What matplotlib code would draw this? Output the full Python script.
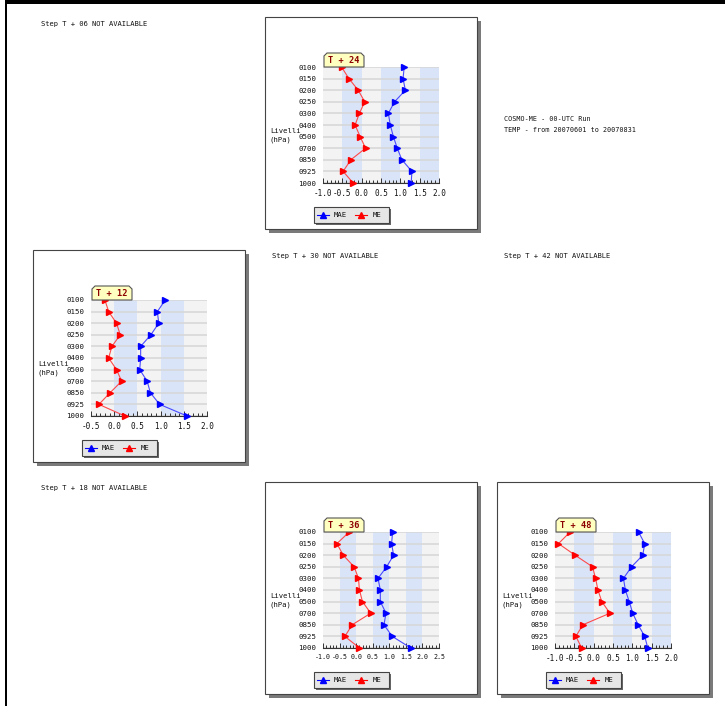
import matplotlib.pyplot as plt
from matplotlib.patches import Rectangle, Polygon
from matplotlib.ticker import MultipleLocator, FormatStrFormatter
import numpy as np

plt.rcParams['font.family'] = 'DejaVu Sans Mono'

W, H = 725, 706

# pressure levels (hPa), top to bottom
levels = ["0100", "0150", "0200", "0250", "0300", "0400",
          "0500", "0700", "0850", "0925", "1000"]

# mean error / mean absolute error per forecast step
me_12 = [-0.20, -0.12, 0.05, 0.13, -0.05, -0.12, 0.05, 0.16, -0.09, -0.33, 0.23]
mae_12 = [1.10, 0.93, 0.96, 0.79, 0.57, 0.57, 0.55, 0.71, 0.78, 0.98, 1.57]

me_24 = [-0.52, -0.33, -0.09, 0.08, -0.06, -0.17, -0.04, 0.10, -0.28, -0.48, -0.22]
mae_24 = [1.10, 1.07, 1.13, 0.85, 0.69, 0.74, 0.82, 0.92, 1.04, 1.30, 1.28]

me_36 = [-0.21, -0.58, -0.39, -0.06, 0.07, 0.10, 0.19, 0.44, -0.12, -0.34, 0.10]
mae_36 = [1.10, 1.07, 1.13, 0.92, 0.66, 0.73, 0.73, 0.90, 0.84, 1.09, 1.65]

me_48 = [-0.61, -0.91, -0.48, -0.03, 0.05, 0.11, 0.21, 0.42, -0.28, -0.46, -0.31]
mae_48 = [1.16, 1.32, 1.27, 0.98, 0.77, 0.82, 0.92, 1.01, 1.15, 1.32, 1.40]

xr_12 = (-0.5, 2.0)
xr_24 = (-1.0, 2.0)
xr_36 = (-1.0, 2.5)
xr_48 = (-1.0, 2.0)

missing = ["Step T + 06 NOT AVAILABLE", "Step T + 30 NOT AVAILABLE",
           "Step T + 42 NOT AVAILABLE", "Step T + 18 NOT AVAILABLE"]
run_info = ["COSMO-ME - 00-UTC Run", "TEMP - from 20070601 to 20070831"]

# panel box top-left corners in page pixels
panels = [("T + 24", (265, 17), me_24, mae_24, xr_24),
          ("T + 12", (33, 250), me_12, mae_12, xr_12),
          ("T + 36", (265, 482), me_36, mae_36, xr_36),
          ("T + 48", (497, 482), me_48, mae_48, xr_48)]

GREY = '#f3f3f3'
BLUE = '#dae4f8'
BOX = 212


def rect(x, y, w, h):
    return [x / W, 1 - (y + h) / H, w / W, h / H]


fig = plt.figure(figsize=(W / 100, H / 100), dpi=100)

# background page layer
bg = fig.add_axes([0, 0, 1, 1])
bg.set_xlim(0, W)
bg.set_ylim(H, 0)
bg.axis('off')
bg.add_patch(Rectangle((6, 0), W - 6, 4, fc='black', ec='none'))
bg.add_patch(Rectangle((5, 0), 2.5, H, fc='black', ec='none'))

for txt, (tx, ty) in zip(missing, [(41, 24), (272, 256), (504, 256), (41, 488)]):
    bg.text(tx, ty, txt, fontsize=5.1, va='center', ha='left', color='#111')
bg.text(504, 119, run_info[0], fontsize=4.9, va='center', ha='left', color='#111')
bg.text(504, 130, run_info[1], fontsize=4.9, va='center', ha='left', color='#111')

for name, (bx, by), me, mae, xr in panels:
    bg.add_patch(Rectangle((bx + 4, by + 4), BOX, BOX, fc='#7a7a7a', ec='none'))
    bg.add_patch(Rectangle((bx, by), BOX, BOX, fc='white', ec='#444444', lw=0.8))
    bg.text(bx + 5, by + 114, "Livelli", fontsize=5.2, va='center', ha='left', color='#111')
    bg.text(bx + 5, by + 123, "(hPa)", fontsize=5.2, va='center', ha='left', color='#111')

# chart layer
for name, (bx, by), me, mae, xr in panels:
    ax = fig.add_axes(rect(bx + 58, by + 50, 116, 116))
    lo, hi = xr
    ax.set_xlim(lo, hi)
    ax.set_ylim(len(levels) - 1, 0)
    edges = np.arange(lo, hi - 0.01, 0.5)
    for i, e in enumerate(edges):
        ax.axvspan(e, e + 0.5, color=GREY if i % 2 == 0 else BLUE, lw=0, zorder=0)
    y = np.arange(len(levels))
    for yy in y:
        ax.axhline(yy, color='#d6d6d6', lw=1.1, zorder=1)
    ax.plot(me, y, color='#ff4a4a', lw=0.8, zorder=3, clip_on=False)
    ax.plot(me, y, ls='none', marker='>', ms=4, color='#ff0000', zorder=4, clip_on=False)
    ax.plot(mae, y, color='#4a4aff', lw=0.8, zorder=3, clip_on=False)
    ax.plot(mae, y, ls='none', marker='>', ms=4, color='#0000ff', zorder=4, clip_on=False)

    for s in ['left', 'right', 'top']:
        ax.spines[s].set_visible(False)
    ax.spines['bottom'].set_color('#333333')
    ax.spines['bottom'].set_linewidth(0.8)
    ax.set_yticks(y)
    ax.set_yticklabels(levels)
    ax.tick_params(axis='y', length=0, pad=5, labelsize=5.3, labelcolor='#111')
    ax.xaxis.set_major_locator(MultipleLocator(0.5))
    ax.xaxis.set_minor_locator(MultipleLocator(0.1))
    ax.xaxis.set_major_formatter(FormatStrFormatter('%.1f'))
    # tighter range -> slightly smaller labels so they don't collide
    xsize = 5.5 if (hi - lo) <= 3.0 else 4.8
    ax.tick_params(axis='x', which='major', direction='in', length=3.5, width=0.7,
                   color='#333', pad=4, labelsize=xsize, labelcolor='#111')
    ax.tick_params(axis='x', which='minor', direction='in', length=2.2, width=0.7,
                   color='#333')
    ax.set_zorder(2)

# overlay layer: step labels and legends
fg = fig.add_axes([0, 0, 1, 1])
fg.set_xlim(0, W)
fg.set_ylim(H, 0)
fg.patch.set_visible(False)
fg.axis('off')
fg.set_zorder(5)

for name, (bx, by), me, mae, xr in panels:
    x0, x1 = bx + 59, bx + 99
    y0, y1 = by + 36, by + 50
    fg.add_patch(Polygon([(x0, y1), (x0, y0 + 3), (x0 + 3, y0), (x1 - 3, y0),
                          (x1, y0 + 3), (x1, y1)], closed=True,
                         fc='#ffffc0', ec='#555555', lw=0.8))
    fg.text((x0 + x1) / 2, (y0 + y1) / 2 + 0.5, name, fontsize=6.2, fontweight='bold',
            color='#8b0000', ha='center', va='center')

    lx, ly = bx + 49, by + 190
    fg.add_patch(Rectangle((lx + 2, ly + 2), 75, 16, fc='#666666', ec='none'))
    fg.add_patch(Rectangle((lx, ly), 75, 16, fc='#e6e6e6', ec='#444444', lw=0.8))
    cy = ly + 8
    fg.plot([lx + 3, lx + 15], [cy, cy], color='#0000ff', lw=0.8)
    fg.plot([lx + 9], [cy], marker='^', ms=4.5, color='#0000ff')
    fg.text(lx + 20, cy, "MAE", fontsize=5.2, va='center', ha='left', color='#111')
    fg.plot([lx + 41, lx + 53], [cy, cy], color='#ff0000', lw=0.8)
    fg.plot([lx + 47], [cy], marker='^', ms=4.5, color='#ff0000')
    fg.text(lx + 59, cy, "ME", fontsize=5.2, va='center', ha='left', color='#111')

fig.savefig('out.png', dpi=100)
